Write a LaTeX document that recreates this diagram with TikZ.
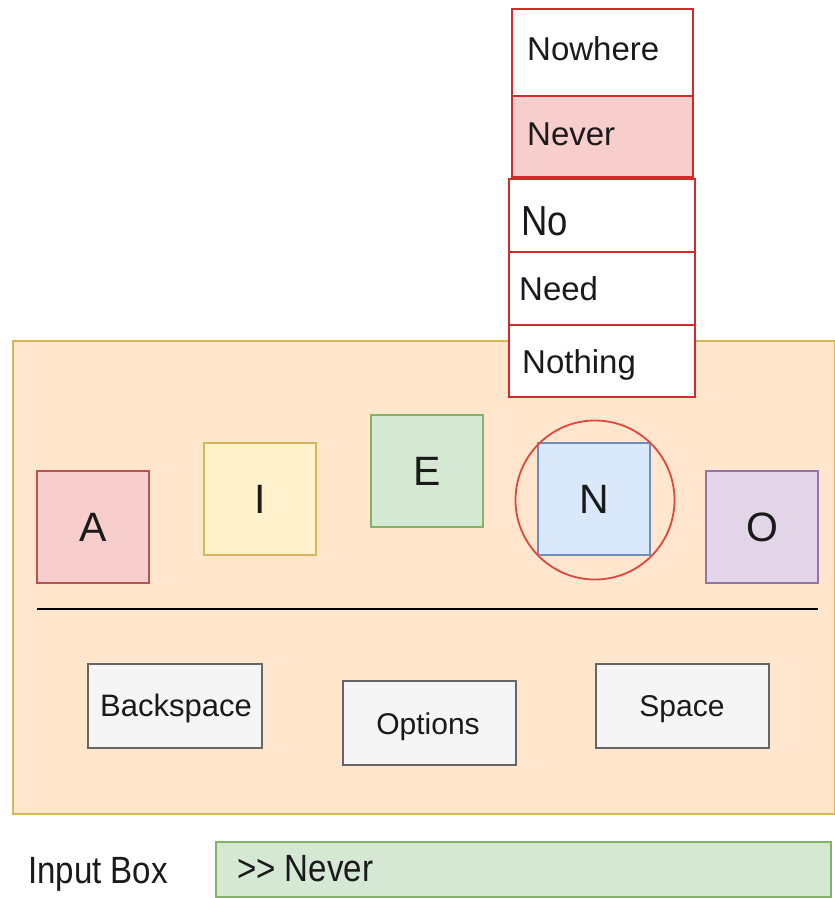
\documentclass[tikz,border=0pt]{standalone}
\usepackage{fontspec}
\setmainfont{Liberation Sans}
\newfontfamily\narrowfont[FakeStretch=0.87]{Liberation Sans}
\definecolor{panelfill}{HTML}{FFE6CC}
\definecolor{panelline}{HTML}{D6B656}
\definecolor{redfill}{HTML}{F8CECC}
\definecolor{redline}{HTML}{B85450}
\definecolor{yelfill}{HTML}{FFF2CC}
\definecolor{yelline}{HTML}{D6B656}
\definecolor{grnfill}{HTML}{D5E8D4}
\definecolor{grnline}{HTML}{82B366}
\definecolor{blufill}{HTML}{DAE8FC}
\definecolor{bluline}{HTML}{6C8EBF}
\definecolor{purfill}{HTML}{E1D5E7}
\definecolor{purline}{HTML}{9673A6}
\definecolor{btnfill}{HTML}{F5F5F5}
\definecolor{btnline}{HTML}{666666}
\definecolor{popline}{HTML}{D42A2A}
\definecolor{ringline}{HTML}{E2463F}
\definecolor{inkc}{HTML}{1A1A1A}
\tikzset{
  keybox/.style={draw, line width=1.3pt, minimum width=112pt, minimum height=112pt,
    inner sep=0pt, font=\fontsize{41}{44}\selectfont, text=inkc},
  btnbox/.style={draw=btnline, fill=btnfill, line width=1.5pt, minimum width=174pt,
    minimum height=84pt, inner sep=0pt, anchor=north west},
  popbox/.style={draw=popline, fill=white, line width=1.8pt, inner sep=0pt, anchor=north west},
  poptext/.style={anchor=base west, inner sep=0pt, text=inkc, font=\fontsize{33}{36}\selectfont},
  btntext/.style={anchor=base, inner sep=0pt, text=inkc, font=\fontsize{30}{34}\selectfont},
  fieldtext/.style={anchor=base west, inner sep=0pt, text=inkc, font=\narrowfont\fontsize{38}{42}\selectfont},
}
\begin{document}
\begin{tikzpicture}[x=1pt, y=-1pt]
\useasboundingbox[fill=white] (0,0) rectangle (835,898);

% keyboard panel
\node[draw=panelline, fill=panelfill, line width=1.8pt, anchor=north west, inner sep=0pt,
  minimum width=822pt, minimum height=473pt] (panel) at (12,340) {};

% word suggestions popup
\node[popbox, minimum width=181pt, minimum height=87pt] (nowhere) at (511,8) {};
\node[popbox, fill=redfill, minimum width=181pt, minimum height=81pt] (never) at (511,95) {};
\node[popbox, minimum width=186pt, minimum height=73pt] (no) at (508,178) {};
\node[popbox, minimum width=186pt, minimum height=73pt] (need) at (508,251) {};
\node[popbox, minimum width=186pt, minimum height=72pt] (nothing) at (508,324) {};
\node[poptext] (nowheretxt) at (527,60) {Nowhere};
\node[poptext] (nevertxt) at (527,145) {Never};
\node[poptext, font=\narrowfont\fontsize{42}{44}\selectfont] (notxt) at (521,235) {No};
\node[poptext] (needtxt) at (519,300) {Need};
\node[poptext] (nothingtxt) at (522,373) {Nothing};

% letter keys
\node[keybox, draw=redline, fill=redfill] (keyA) at (93,527) {A};
\node[keybox, draw=yelline, fill=yelfill] (keyI) at (260,499) {I};
\node[keybox, draw=grnline, fill=grnfill] (keyE) at (427,471) {E};
\node[keybox, draw=bluline, fill=blufill] (keyN) at (594,499) {N};
\node[keybox, draw=purline, fill=purfill] (keyO) at (762,527) {O};
\node[draw=ringline, line width=1.8pt, circle, minimum size=159pt, inner sep=0pt] (ring) at (595,500) {};

% divider
\coordinate (divl) at (37,609);
\coordinate (divr) at (818,609);
\draw[line width=1.8pt, black] (divl) -- (divr);

% control buttons
\node[btnbox] (backspace) at (87,663) {};
\node[btnbox, minimum width=173pt] (options) at (342,680) {};
\node[btnbox, minimum width=173pt] (space) at (595,663) {};
\node[btntext, font=\fontsize{31}{34}\selectfont] (backspacetxt) at (176,716) {Backspace};
\node[btntext] (optionstxt) at (428,734) {Options};
\node[btntext] (spacetxt) at (682,716) {Space};

% input field
\node[fieldtext] (inputlbl) at (28,883) {Input Box};
\node[draw=grnline, fill=grnfill, line width=1.5pt, anchor=north west, inner sep=0pt,
  minimum width=615pt, minimum height=55pt] (inputbox) at (215,841) {};
\node[fieldtext] (inputtxt) at (237,881) {>{}> Never};
\end{tikzpicture}
\end{document}
